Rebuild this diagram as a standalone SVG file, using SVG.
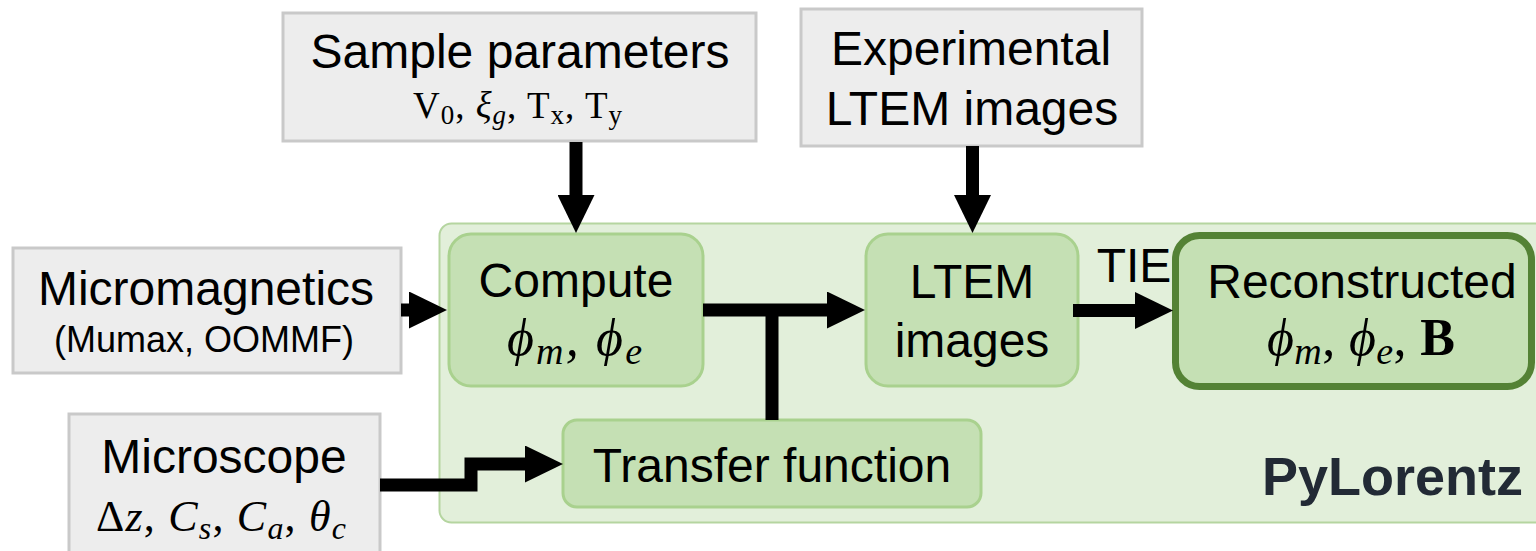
<svg xmlns="http://www.w3.org/2000/svg" width="1536" height="551" viewBox="0 0 1536 551">
<style>
.gray{fill:#ededed;stroke:#c9c9c9;stroke-width:3}
.green{fill:#c5e0b4;stroke:#a9d18e;stroke-width:3}
.t{font-family:"Liberation Sans",Arial,sans-serif;font-size:48px;fill:#000;text-anchor:middle}
.m{font-family:"Liberation Serif","DejaVu Serif",serif;fill:#000}
.i{font-style:italic}
.c{fill:none;stroke:#000;stroke-width:13;stroke-linejoin:miter}
</style>
<defs>
<marker id="ah" viewBox="0 0 38 37" refX="2" refY="18.5" markerWidth="38" markerHeight="37" markerUnits="userSpaceOnUse" orient="auto">
<path d="M0,0 L38,18.5 L0,37 Z" fill="#000"/>
</marker>
</defs>
<g id="pylorentz">
<rect x="439.5" y="223.5" width="1110" height="299" rx="12" fill="#e2efda" stroke="#b5d5a0" stroke-width="2"/>
<text x="1523" y="495" font-family="'Liberation Sans',Arial,sans-serif" font-size="54" font-weight="bold" fill="#222a35" text-anchor="end">PyLorentz</text>
</g>
<g id="sample">
<rect class="gray" x="283" y="13" width="473" height="128"/>
<text class="t" x="520" y="68">Sample parameters</text>
<text class="m" x="413" y="118" font-size="37" textLength="209">V<tspan dy="6" font-size="27">0</tspan><tspan dy="-6">, </tspan><tspan class="i">ξ</tspan><tspan class="i" dy="6" font-size="27">g</tspan><tspan dy="-6">, T</tspan><tspan dy="6" font-size="27">x</tspan><tspan dy="-6">, T</tspan><tspan dy="6" font-size="27">y</tspan></text>
</g>
<g id="experimental">
<rect class="gray" x="801" y="9" width="341" height="137"/>
<text class="t" x="971" y="65">Experimental</text>
<text class="t" x="972" y="125">LTEM images</text>
</g>
<g id="micromagnetics">
<rect class="gray" x="13" y="248" width="388" height="125"/>
<text class="t" x="206" y="305">Micromagnetics</text>
<text class="t" x="204" y="352" style="font-size:36px">(Mumax, OOMMF)</text>
</g>
<g id="microscope">
<rect class="gray" x="69" y="414" width="311" height="150"/>
<text class="t" x="224" y="473">Microscope</text>
<text class="m" x="96" y="531" font-size="44" textLength="250">Δ<tspan class="i">z</tspan>, <tspan class="i">C</tspan><tspan class="i" dy="8" font-size="32">s</tspan><tspan dy="-8">, </tspan><tspan class="i">C</tspan><tspan class="i" dy="8" font-size="32">a</tspan><tspan dy="-8">, </tspan><tspan class="i">θ</tspan><tspan class="i" dy="8" font-size="32">c</tspan></text>
</g>
<g id="compute">
<rect class="green" x="449" y="234" width="254" height="152" rx="22"/>
<text class="t" x="576" y="297">Compute</text>
<text class="m i" x="507" y="355" font-size="52" textLength="135">ϕ<tspan dy="9" font-size="38">m</tspan><tspan dy="-9">, ϕ</tspan><tspan dy="9" font-size="38">e</tspan></text>
</g>
<g id="ltem">
<rect class="green" x="866" y="234" width="212" height="152" rx="22"/>
<text class="t" x="972" y="298">LTEM</text>
<text class="t" x="972" y="357">images</text>
</g>
<g id="transfer">
<rect class="green" x="563" y="420" width="418" height="87" rx="14"/>
<text class="t" x="772" y="482">Transfer function</text>
</g>
<g id="reconstructed">
<rect x="1175.5" y="235.5" width="356" height="151" rx="24" fill="#c5e0b4" stroke="#548235" stroke-width="7"/>
<text class="t" x="1362" y="298">Reconstructed</text>
<text class="m" x="1267" y="355" font-size="52" textLength="188"><tspan class="i">ϕ</tspan><tspan class="i" dy="9" font-size="38">m</tspan><tspan dy="-9">, </tspan><tspan class="i">ϕ</tspan><tspan class="i" dy="9" font-size="38">e</tspan><tspan dy="-9">, </tspan><tspan font-weight="bold">B</tspan></text>
</g>
<g id="connectors">
<line class="c" x1="576" y1="142" x2="576" y2="197" marker-end="url(#ah)"/>
<line class="c" x1="972.5" y1="146" x2="972.5" y2="197" marker-end="url(#ah)"/>
<line class="c" x1="401" y1="310" x2="411" y2="310" marker-end="url(#ah)"/>
<line class="c" x1="703" y1="310" x2="829" y2="310" marker-end="url(#ah)"/>
<line class="c" x1="772" y1="310" x2="772" y2="420"/>
<line class="c" x1="1073" y1="310.5" x2="1137" y2="310.5" marker-end="url(#ah)"/>
<polyline class="c" points="380,485 471,485 471,464 527,464" marker-end="url(#ah)"/>
<text class="t" x="1134" y="282">TIE</text>
</g>
</svg>
